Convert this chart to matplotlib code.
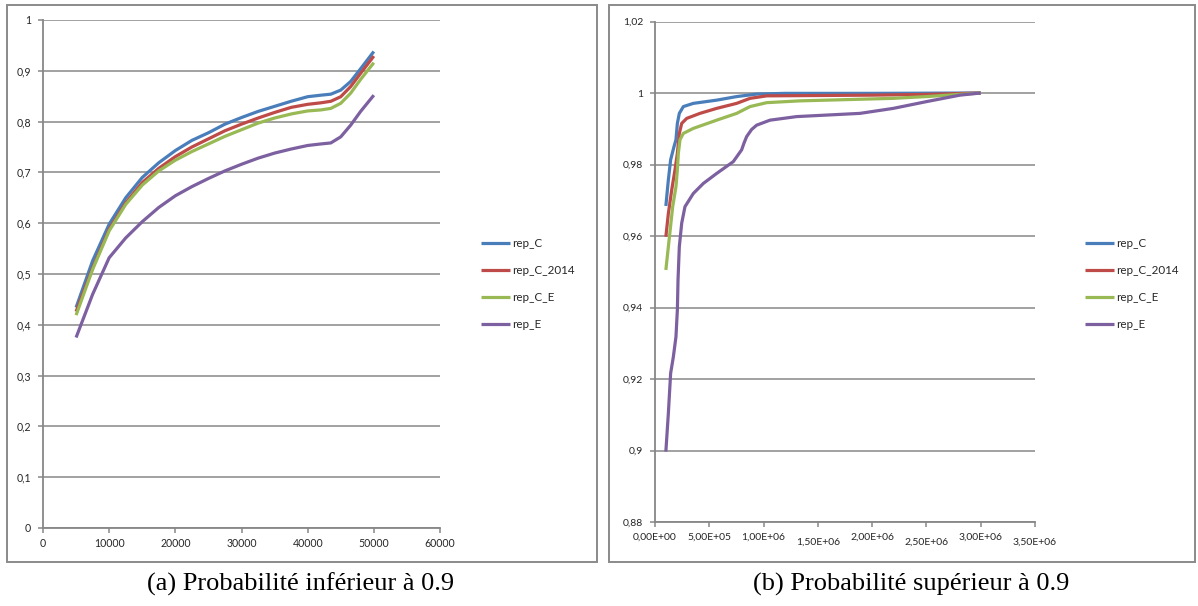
import matplotlib
matplotlib.use("Agg")
import matplotlib.pyplot as plt
from matplotlib.patches import Rectangle

# ---- data ----
names = ["rep_C", "rep_C_2014", "rep_C_E", "rep_E"]
colors = ["#4a7ebb", "#be4b48", "#98b954", "#7d60a0"]

# panel (a) : probability below 0.9
x_a = [5000, 7500, 10000, 12500, 15000, 17500, 20000, 22500, 25000, 27500,
       30000, 32500, 35000, 37500, 40000, 42000, 43500, 45000, 46500, 48000, 50000]
a_rep_C = [0.434, 0.526, 0.598, 0.650, 0.690, 0.719, 0.743, 0.763, 0.778, 0.795,
           0.808, 0.820, 0.830, 0.840, 0.849, 0.852, 0.854, 0.862, 0.879, 0.904, 0.938]
a_rep_C_2014 = [0.426, 0.512, 0.588, 0.640, 0.680, 0.708, 0.731, 0.750, 0.766, 0.782,
                0.795, 0.807, 0.818, 0.828, 0.834, 0.837, 0.840, 0.849, 0.869, 0.895, 0.929]
a_rep_C_E = [0.419, 0.509, 0.585, 0.637, 0.675, 0.703, 0.724, 0.741, 0.756, 0.771,
             0.784, 0.797, 0.807, 0.815, 0.821, 0.823, 0.826, 0.836, 0.856, 0.883, 0.916]
a_rep_E = [0.375, 0.460, 0.532, 0.571, 0.603, 0.631, 0.654, 0.672, 0.688, 0.703,
           0.716, 0.728, 0.738, 0.746, 0.753, 0.756, 0.758, 0.770, 0.793, 0.820, 0.852]

# panel (b) : probability above 0.9
xb_rep_C = [1.00e5, 1.23e5, 1.44e5, 1.75e5, 1.93e5, 2.06e5, 2.24e5, 2.61e5, 3.53e5,
            5.68e5, 7.52e5, 9.36e5, 1.2e6, 2.0e6, 3.0e6]
b_rep_C = [0.9684, 0.9757, 0.9813, 0.9850, 0.9869, 0.9915, 0.9943, 0.9962, 0.9971,
           0.9980, 0.9990, 0.9997, 0.9999, 0.9999, 1.0]
xb_rep_C_2014 = [1.00e5, 1.23e5, 1.54e5, 1.84e5, 2.06e5, 2.24e5, 2.46e5, 2.92e5, 4.14e5,
                 5.68e5, 7.52e5, 8.75e5, 1.029e6, 2.0e6, 2.5e6, 3.0e6]
b_rep_C_2014 = [0.9598, 0.9663, 0.9729, 0.9785, 0.9831, 0.9887, 0.9915, 0.9929, 0.9943,
                0.9957, 0.9971, 0.9985, 0.9992, 0.9994, 0.9996, 1.0]
xb_rep_C_E = [1.00e5, 1.23e5, 1.63e5, 1.93e5, 2.06e5, 2.15e5, 2.30e5, 2.61e5, 3.53e5,
              5.68e5, 7.52e5, 8.75e5, 1.029e6, 1.335e6, 2.19e6, 2.5e6, 3.0e6]
b_rep_C_E = [0.9505, 0.9570, 0.9682, 0.9738, 0.9785, 0.9831, 0.9869, 0.9887, 0.9901,
             0.9924, 0.9943, 0.9962, 0.9973, 0.9978, 0.9985, 0.9990, 1.0]
xb_rep_E = [1.00e5, 1.23e5, 1.44e5, 1.69e5, 1.93e5, 2.06e5, 2.12e5, 2.24e5, 2.46e5,
            2.76e5, 3.53e5, 4.45e5, 5.68e5, 7.21e5, 7.98e5, 8.2e5, 8.44e5, 8.9e5,
            9.36e5, 1.059e6, 1.305e6, 1.888e6, 2.195e6, 2.502e6, 2.809e6, 3.0e6]
b_rep_E = [0.8997, 0.9104, 0.9216, 0.9262, 0.9318, 0.9393, 0.9477, 0.9570, 0.9636,
           0.9682, 0.9719, 0.9747, 0.9775, 0.9808, 0.9841, 0.9860, 0.9878, 0.9898,
           0.9910, 0.9924, 0.9934, 0.9943, 0.9957, 0.9976, 0.9994, 1.0]

# ticks
yticks_a = [0, 0.1, 0.2, 0.3, 0.4, 0.5, 0.6, 0.7, 0.8, 0.9, 1.0]
ylabels_a = ["0", "0,1", "0,2", "0,3", "0,4", "0,5", "0,6", "0,7", "0,8", "0,9", "1"]
xticks_a = [0, 10000, 20000, 30000, 40000, 50000, 60000]
xlabels_a = ["0", "10000", "20000", "30000", "40000", "50000", "60000"]
yticks_b = [0.88, 0.90, 0.92, 0.94, 0.96, 0.98, 1.00, 1.02]
ylabels_b = ["0,88", "0,9", "0,92", "0,94", "0,96", "0,98", "1", "1,02"]
xticks_b = [0, 5e5, 1e6, 1.5e6, 2e6, 2.5e6, 3e6, 3.5e6]
xlabels_b = ["0,00E+00", "5,00E+05", "1,00E+06", "1,50E+06", "2,00E+06",
             "2,50E+06", "3,00E+06", "3,50E+06"]

captions = ["(a) Probabilité inférieur à 0.9", "(b) Probabilité supérieur à 0.9"]

W, H = 1198, 606
fig = plt.figure(figsize=(W / 100, H / 100), dpi=100)
grey = "#878787"
txt = "#262626"


def fx(px):
    return px / W


def fy(py):
    return 1 - py / H


def style(ax, fs):
    for s in ["top", "right"]:
        ax.spines[s].set_visible(False)
    for s in ["left", "bottom"]:
        ax.spines[s].set_color(grey)
        ax.spines[s].set_linewidth(1.3)
    ax.grid(axis="y", color=grey, lw=1.1)
    ax.set_axisbelow(True)
    ax.tick_params(colors=grey, length=3.5, width=1.1, labelcolor=txt, labelsize=fs)
    for lab in ax.get_xticklabels() + ax.get_yticklabels():
        lab.set_family("Lato")


# boxes around each chart
for x0, x1 in [(7, 597), (609, 1195)]:
    fig.patches.append(Rectangle((fx(x0), fy(562)), fx(x1 - x0), (562 - 5) / H,
                                 transform=fig.transFigure, fill=False,
                                 edgecolor="#8a8a8a", lw=1.4))

leg_kw = dict(loc="upper left", frameon=False, handlelength=2.5, handletextpad=0.15,
              labelspacing=1.38, borderpad=0, borderaxespad=0,
              prop={"family": "Lato", "size": 8.4})

# ---- panel (a)
ax1 = fig.add_axes([fx(43), fy(528), fx(440 - 43), (528 - 20) / H])
for ys, c, n in zip([a_rep_C, a_rep_C_2014, a_rep_C_E, a_rep_E], colors, names):
    ax1.plot(x_a, ys, color=c, lw=2.3, label=n, solid_capstyle="butt",
             solid_joinstyle="round")
ax1.set_xlim(0, 60000)
ax1.set_ylim(0, 1)
ax1.set_xticks(xticks_a, xlabels_a)
ax1.set_yticks(yticks_a, ylabels_a)
style(ax1, 7.6)
ax1.tick_params(axis="y", pad=5)
leg1 = ax1.legend(bbox_to_anchor=((481 - 43) / 397, (528 - 238) / 508), **leg_kw)

# ---- panel (b)
ax2 = fig.add_axes([fx(655), fy(522), fx(1035 - 655), (522 - 21.5) / H])
for xs, ys, c, n in zip([xb_rep_C, xb_rep_C_2014, xb_rep_C_E, xb_rep_E],
                        [b_rep_C, b_rep_C_2014, b_rep_C_E, b_rep_E], colors, names):
    ax2.plot(xs, ys, color=c, lw=2.3, label=n, solid_capstyle="butt",
             solid_joinstyle="round")
ax2.set_xlim(0, 3.5e6)
ax2.set_ylim(0.88, 1.02)
ax2.set_xticks(xticks_b, xlabels_b)
ax2.set_yticks(yticks_b, ylabels_b)
style(ax2, 7.5)
ax2.tick_params(axis="y", pad=5)
for i, t in enumerate(ax2.xaxis.get_major_ticks()):
    t.set_pad(8 if i in (3, 5, 7) else 4)
leg2 = ax2.legend(bbox_to_anchor=((1085 - 655) / 380, (522 - 238) / 500.5), **leg_kw)
for leg in (leg1, leg2):
    for t in leg.get_texts():
        t.set_color(txt)

# captions
fig.text(fx(301), fy(584), captions[0], ha="center", va="center",
         family="Liberation Serif", fontsize=19, color="black")
fig.text(fx(911), fy(584), captions[1], ha="center", va="center",
         family="Liberation Serif", fontsize=19, color="black")

fig.savefig("out.png", dpi=100)
